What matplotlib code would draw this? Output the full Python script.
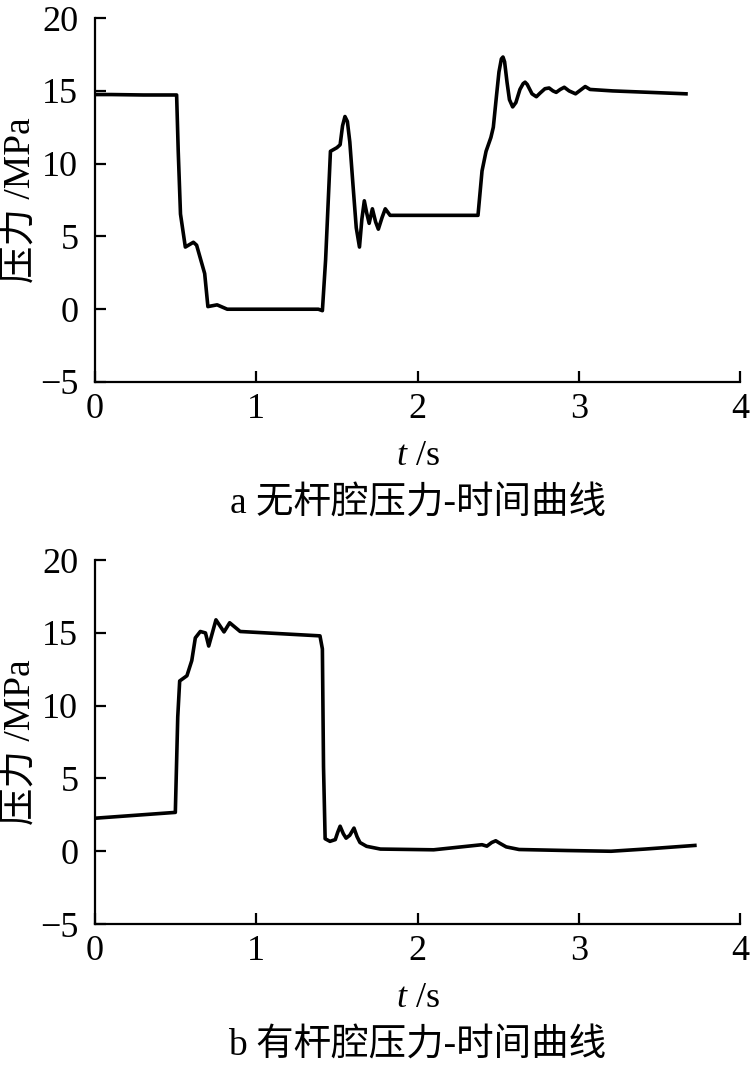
import numpy as np
import matplotlib
matplotlib.use("Agg")
import matplotlib.pyplot as plt

# rodless chamber pressure (a)
t_a = [0.0, 0.1, 0.3, 0.506, 0.516, 0.53, 0.56, 0.61, 0.63, 0.68, 0.70, 0.757, 0.82,
       1.0, 1.2, 1.385, 1.41, 1.43, 1.46, 1.50, 1.52, 1.535, 1.55, 1.565, 1.58, 1.60,
       1.62, 1.64, 1.655, 1.67, 1.685, 1.70, 1.72, 1.74, 1.757, 1.78, 1.80, 1.83,
       2.0, 2.2, 2.375, 2.40, 2.425, 2.455, 2.47, 2.49, 2.505, 2.52, 2.53, 2.54,
       2.555, 2.57, 2.59, 2.61, 2.635, 2.655, 2.667, 2.68, 2.71, 2.737, 2.76, 2.79,
       2.816, 2.84, 2.86, 2.885, 2.91, 2.94, 2.98, 3.01, 3.04, 3.07, 3.21, 3.44, 3.665]
p_a = [14.75, 14.75, 14.72, 14.72, 10.85, 6.54, 4.27, 4.6, 4.4, 2.45, 0.18, 0.3, 0.0,
       0.0, 0.0, 0.0, -0.1, 3.4, 10.85, 11.1, 11.3, 12.6, 13.24, 12.9, 11.5, 8.5,
       5.6, 4.27, 6.2, 7.45, 6.6, 5.9, 6.9, 6.0, 5.5, 6.3, 6.9, 6.45,
       6.45, 6.45, 6.45, 9.5, 10.85, 11.8, 12.5, 14.7, 16.3, 17.2, 17.33, 17.0,
       15.6, 14.4, 13.9, 14.2, 15.1, 15.5, 15.6, 15.45, 14.8, 14.6, 14.85, 15.15,
       15.2, 15.0, 14.9, 15.1, 15.25, 15.0, 14.8, 15.05, 15.3, 15.1, 15.0, 14.9, 14.8]

# rod chamber pressure (b)
t_b = [0.0, 0.498, 0.513, 0.525, 0.57, 0.60, 0.622, 0.653, 0.685, 0.705, 0.72, 0.75,
       0.78, 0.80, 0.835, 0.90, 1.395, 1.41, 1.417, 1.427, 1.457, 1.49, 1.505, 1.52,
       1.54, 1.557, 1.58, 1.606, 1.625, 1.643, 1.684, 1.77, 2.10, 2.40, 2.43, 2.46,
       2.485, 2.51, 2.55, 2.63, 2.93, 3.20, 3.41, 3.72]
p_b = [2.27, 2.67, 9.23, 11.7, 12.06, 13.1, 14.66, 15.1, 15.0, 14.1, 14.7, 15.9,
       15.4, 15.07, 15.7, 15.1, 14.8, 13.9, 5.8, 0.86, 0.68, 0.8, 1.3, 1.72,
       1.2, 0.9, 1.1, 1.59, 1.0, 0.6, 0.34, 0.15, 0.1, 0.45, 0.35, 0.6,
       0.72, 0.55, 0.3, 0.12, 0.05, 0.0, 0.15, 0.4]

captions = ["a 无杆腔压力-时间曲线", "b 有杆腔压力-时间曲线"]
FONT = ["Liberation Serif", "Noto Sans CJK SC"]

plt.rcParams["font.family"] = FONT
plt.rcParams["axes.unicode_minus"] = True
plt.rcParams["mathtext.fontset"] = "custom"
plt.rcParams["mathtext.it"] = "Liberation Serif:italic"
plt.rcParams["mathtext.rm"] = "Liberation Serif"

fig = plt.figure(figsize=(7.5, 10.67), dpi=100)
axes = [fig.add_axes([0.1267, 0.642, 0.86, 0.341]),
        fig.add_axes([0.1267, 0.134, 0.86, 0.341])]

for ax, t, p, cap in zip(axes, [t_a, t_b], [p_a, p_b], captions):
    ax.plot(t, p, color="black", lw=2.6, solid_joinstyle="round")
    ax.set_xlim(0, 4)
    ax.set_ylim(-5, 20)
    ax.set_xticks([0, 1, 2, 3, 4])
    ax.set_yticks([-5, 0, 5, 10, 15, 20])
    ax.spines["top"].set_visible(False)
    ax.spines["right"].set_visible(False)
    for s in ("left", "bottom"):
        ax.spines[s].set_linewidth(1.6)
    ax.tick_params(direction="in", length=8, width=1.6, labelsize=26)
    ax.tick_params(axis="y", pad=12)
    ax.tick_params(axis="x", pad=8)
    ax.set_ylabel("压力 /MPa", fontsize=27, labelpad=2)
    ax.set_xlabel("$t$ /s", fontsize=26, labelpad=10)
    ax.text(0.5, -0.335, cap, transform=ax.transAxes, ha="center", va="center",
            fontsize=27)

fig.savefig("out.png", dpi=100)
